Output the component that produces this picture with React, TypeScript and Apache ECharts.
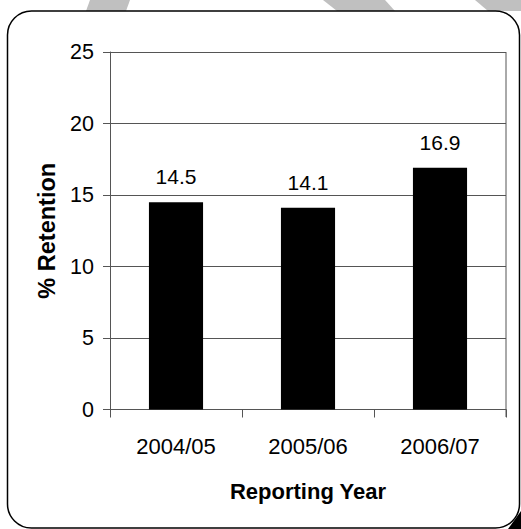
import React, { useEffect, useRef } from "react";
import * as echarts from "echarts";

const categories = ["2004/05", "2005/06", "2006/07"];
const retention = [14.5, 14.1, 16.9];
const yTicks = { min: 0, max: 25, interval: 5 };

export default function App() {
  const ref = useRef<HTMLDivElement>(null);
  useEffect(() => {
    if (!ref.current) return;
    const chart = echarts.init(ref.current, undefined, { renderer: "svg" });
    const font = "Liberation Sans, Arial, sans-serif";
    chart.setOption({
      animation: false,
      backgroundColor: "#ffffff",
      textStyle: { fontFamily: font },
      grid: { left: 110, right: 15, top: 52, bottom: 119.5, containLabel: false },
      xAxis: {
        type: "category",
        data: categories,
        boundaryGap: true,
        axisLine: { show: true, lineStyle: { color: "#555", width: 1 } },
        axisTick: { show: true, length: 8, lineStyle: { color: "#555" }, alignWithLabel: false },
        axisLabel: { color: "#000", fontSize: 22, margin: 26, fontFamily: font },
        name: "Reporting Year",
        nameLocation: "middle",
        nameGap: 82,
        nameTextStyle: { color: "#000", fontSize: 22, fontWeight: "bold", verticalAlign: "middle", fontFamily: font },
        splitLine: { show: false },
      },
      yAxis: {
        type: "value",
        min: yTicks.min,
        max: yTicks.max,
        interval: yTicks.interval,
        axisLine: { show: true, lineStyle: { color: "#555", width: 1 } },
        axisTick: { show: true, length: 7, lineStyle: { color: "#555" } },
        axisLabel: { color: "#000", fontSize: 21.5, margin: 16, fontFamily: font },
        splitLine: { show: true, lineStyle: { color: "#555", width: 1 } },
        name: "% Retention",
        nameLocation: "middle",
        nameGap: 63,
        nameRotate: 90,
        nameTextStyle: { color: "#000", fontSize: 23.5, fontWeight: "bold", verticalAlign: "middle", fontFamily: font },
      },
      graphic: [
        { type: "polygon", silent: true, z: 0, shape: { points: [[90, 0], [130, 0], [126, 11], [86, 11]] }, style: { fill: "#c0c0c0" } },
        { type: "polygon", silent: true, z: 0, shape: { points: [[323, 0], [385, 0], [395, 11], [337, 11]] }, style: { fill: "#c0c0c0" } },
        { type: "polygon", silent: true, z: 0, shape: { points: [[475, 0], [521, 0], [521, 11], [488, 11]] }, style: { fill: "#c0c0c0" } },
        { type: "rect", silent: true, z: 1, shape: { x: 7.5, y: 11, width: 512, height: 517, r: 24 }, style: { fill: "none", stroke: "#000", lineWidth: 1.5 } },
        { type: "polygon", silent: true, z: 2, shape: { points: [[521, 511], [521, 529], [508, 529]] }, style: { fill: "#000" } },
        { type: "line", silent: true, z: 3, shape: { x1: 506, y1: 52, x2: 506, y2: 417 }, style: { stroke: "#555", lineWidth: 1 } },
      ],
      series: [
        {
          type: "bar",
          data: retention,
          barWidth: "41%",
          itemStyle: { color: "#000" },
          z: 5,
          label: {
            show: true,
            position: "top",
            distance: 15,
            color: "#000",
            fontSize: 21,
            fontFamily: font,
            formatter: (p: any) => p.value.toFixed(1),
          },
        },
      ],
    });
    return () => chart.dispose();
  }, []);
  return (
    <div
      ref={ref}
      style={{ position: "fixed", left: 0, top: 0, width: 521, height: 529 }}
    />
  );
}
